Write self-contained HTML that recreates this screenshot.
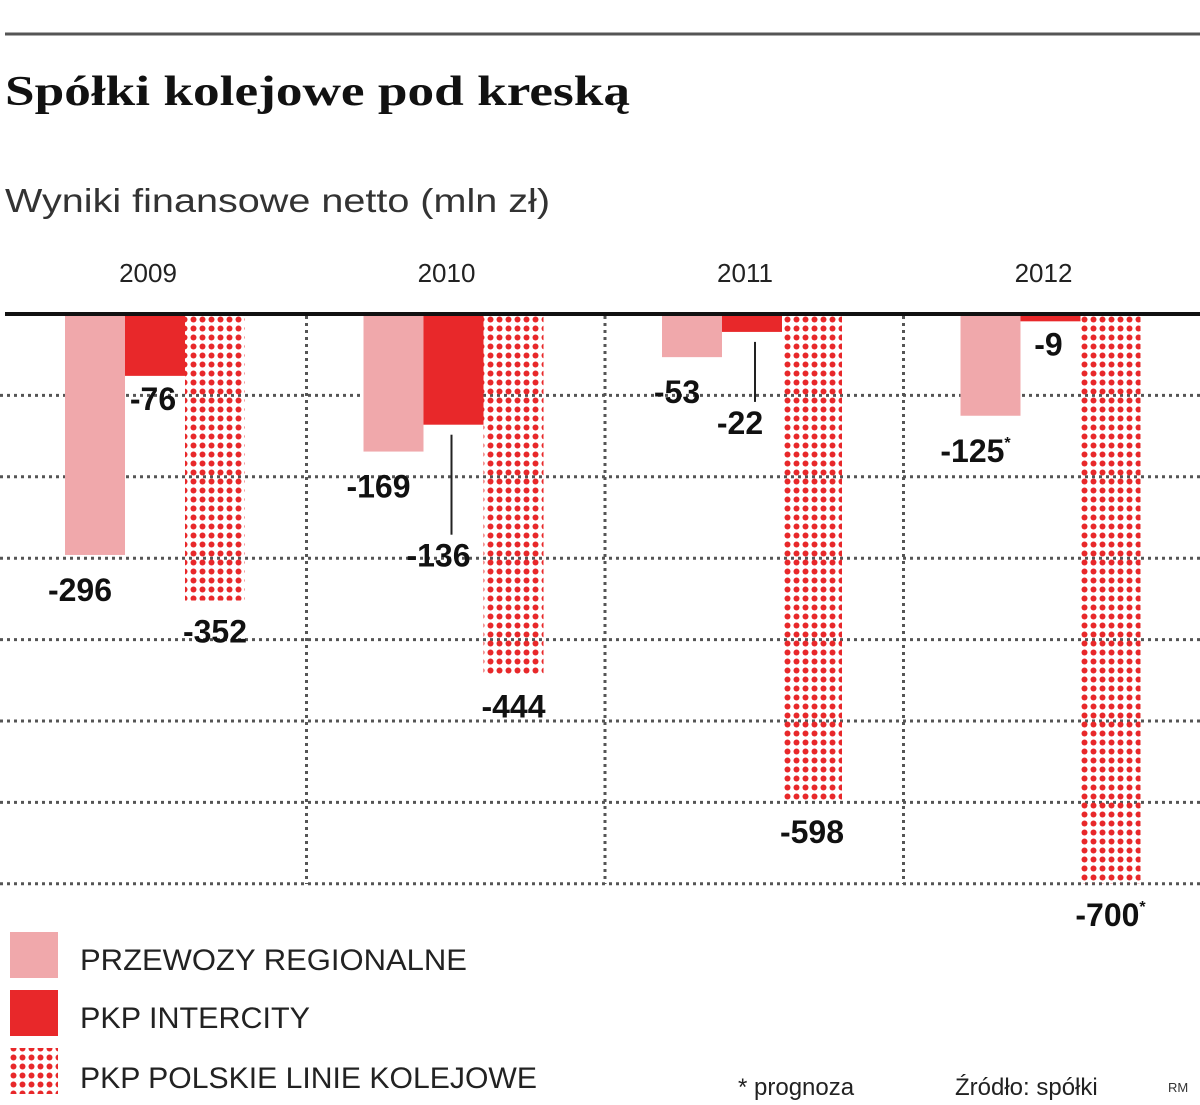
<!DOCTYPE html>
<html><head><meta charset="utf-8"><style>
body{margin:0;background:#fff;width:1200px;height:1100px;overflow:hidden;font-family:"Liberation Sans",sans-serif}
</style></head><body>
<svg width="1200" height="1100" xmlns="http://www.w3.org/2000/svg">
<defs>
<pattern id="dots" width="9" height="9" patternUnits="userSpaceOnUse"><circle cx="4.5" cy="4.5" r="3" fill="#e8282a"/></pattern>
</defs>
<line x1="5" y1="34" x2="1200" y2="34" stroke="#555" stroke-width="3"/>
<text x="5" y="105" font-family="Liberation Serif" font-weight="bold" font-size="42" fill="#111" textLength="625" lengthAdjust="spacingAndGlyphs">Spółki kolejowe pod kreską</text>
<text x="5" y="212" font-size="33" fill="#333" textLength="545" lengthAdjust="spacingAndGlyphs">Wyniki finansowe netto (mln zł)</text>
<g id="grid"></g>
<g id="bars"></g>
<line x1="5" y1="314" x2="1200" y2="314" stroke="#111" stroke-width="4"/>
<g id="labels"></g>
<rect x="10" y="932" width="48" height="46" fill="#f0a8ab"/>
<text x="80" y="970" font-size="30" fill="#222" textLength="387" lengthAdjust="spacingAndGlyphs">PRZEWOZY REGIONALNE</text>
<rect x="10" y="990" width="48" height="46" fill="#e8282a"/>
<text x="80" y="1028" font-size="30" fill="#222" textLength="230" lengthAdjust="spacingAndGlyphs">PKP INTERCITY</text>
<rect x="10" y="1048" width="48" height="46" fill="url(#dots)"/>
<text x="80" y="1088" font-size="30" fill="#222" textLength="457" lengthAdjust="spacingAndGlyphs">PKP POLSKIE LINIE KOLEJOWE</text>
<text x="738" y="1095" font-size="24" fill="#222">* prognoza</text>
<text x="955" y="1095" font-size="24" fill="#222">Źródło: spółki</text>
<text x="1168" y="1092" font-size="13" fill="#333">RM</text>
</svg>
<script>
const years=["2009","2010","2011","2012"];
const regionalne=[-296,-169,-53,-125];
const intercity=[-76,-136,-22,-9];
const plk=[-352,-444,-598,-700];
const forecast=[false,false,false,true];
const yTicks=[-100,-200,-300,-400,-500,-600,-700];
const NS="http://www.w3.org/2000/svg";
const y0=314,k=0.814;
const Y=v=>y0-v*k;
const groupX=i=>65+i*298.5;
const barW=60;
function mk(t,a,p){const e=document.createElementNS(NS,t);for(const n in a)e.setAttribute(n,a[n]);p.appendChild(e);return e;}
const grid=document.getElementById('grid'),bars=document.getElementById('bars'),labels=document.getElementById('labels');
yTicks.forEach(v=>{const l=mk('line',{x1:0,x2:1200,y1:Y(v),y2:Y(v),stroke:'#555','stroke-width':3,'stroke-dasharray':'3 4'},grid);

});
[1,2,3].forEach(i=>{const x=groupX(i)-57;const l=mk('line',{x1:x,x2:x,y1:316,y2:884,stroke:'#555','stroke-width':3,'stroke-dasharray':'3 4'},grid);

});
function lbl(x,y,txt,star,name){const t=mk('text',{x:x,y:y,'font-size':32,'font-weight':'bold','text-anchor':'middle',fill:'#111'},labels);t.textContent=txt;


if(star){const s=mk('tspan',{'font-size':16,dy:-14},t);s.textContent='*';}}
years.forEach((yr,i)=>{const gx=groupX(i);
const t=mk('text',{x:gx+83,y:282,'font-size':26,'text-anchor':'middle',fill:'#222'},labels);t.textContent=yr;


const series=[[regionalne,'#f0a8ab','regionalne'],[intercity,'#e8282a','intercity'],[plk,'url(#dots)','plk']];
series.forEach(([arr,fill,nm],j)=>{const v=arr[i];const r=mk('rect',{x:gx+j*barW,y:y0,width:barW,height:Y(v)-y0,fill:fill},bars);

});
const f=forecast[i];
lbl(gx+15,Y(regionalne[i])+46,String(regionalne[i]),f,'value-regionalne-'+yr);
const ic=intercity[i];
if(i==1){
  const ln=mk('line',{x1:gx+88,x2:gx+88,y1:Y(ic)+10,y2:Y(ic)+110,stroke:'#222','stroke-width':2},labels);
  
  
  lbl(gx+75,Y(ic)+142,String(ic),false,'value-intercity-'+yr);
}else if(i==2){
  const ln=mk('line',{x1:gx+93,x2:gx+93,y1:Y(ic)+10,y2:Y(ic)+70,stroke:'#222','stroke-width':2},labels);
  
  
  lbl(gx+78,Y(ic)+102,String(ic),false,'value-intercity-'+yr);
}else{
  lbl(gx+88,Y(ic)+34,String(ic),false,'value-intercity-'+yr);
}
lbl(gx+150,Y(plk[i])+42,String(plk[i]),f,'value-plk-'+yr);
});
</script>
</body></html>
